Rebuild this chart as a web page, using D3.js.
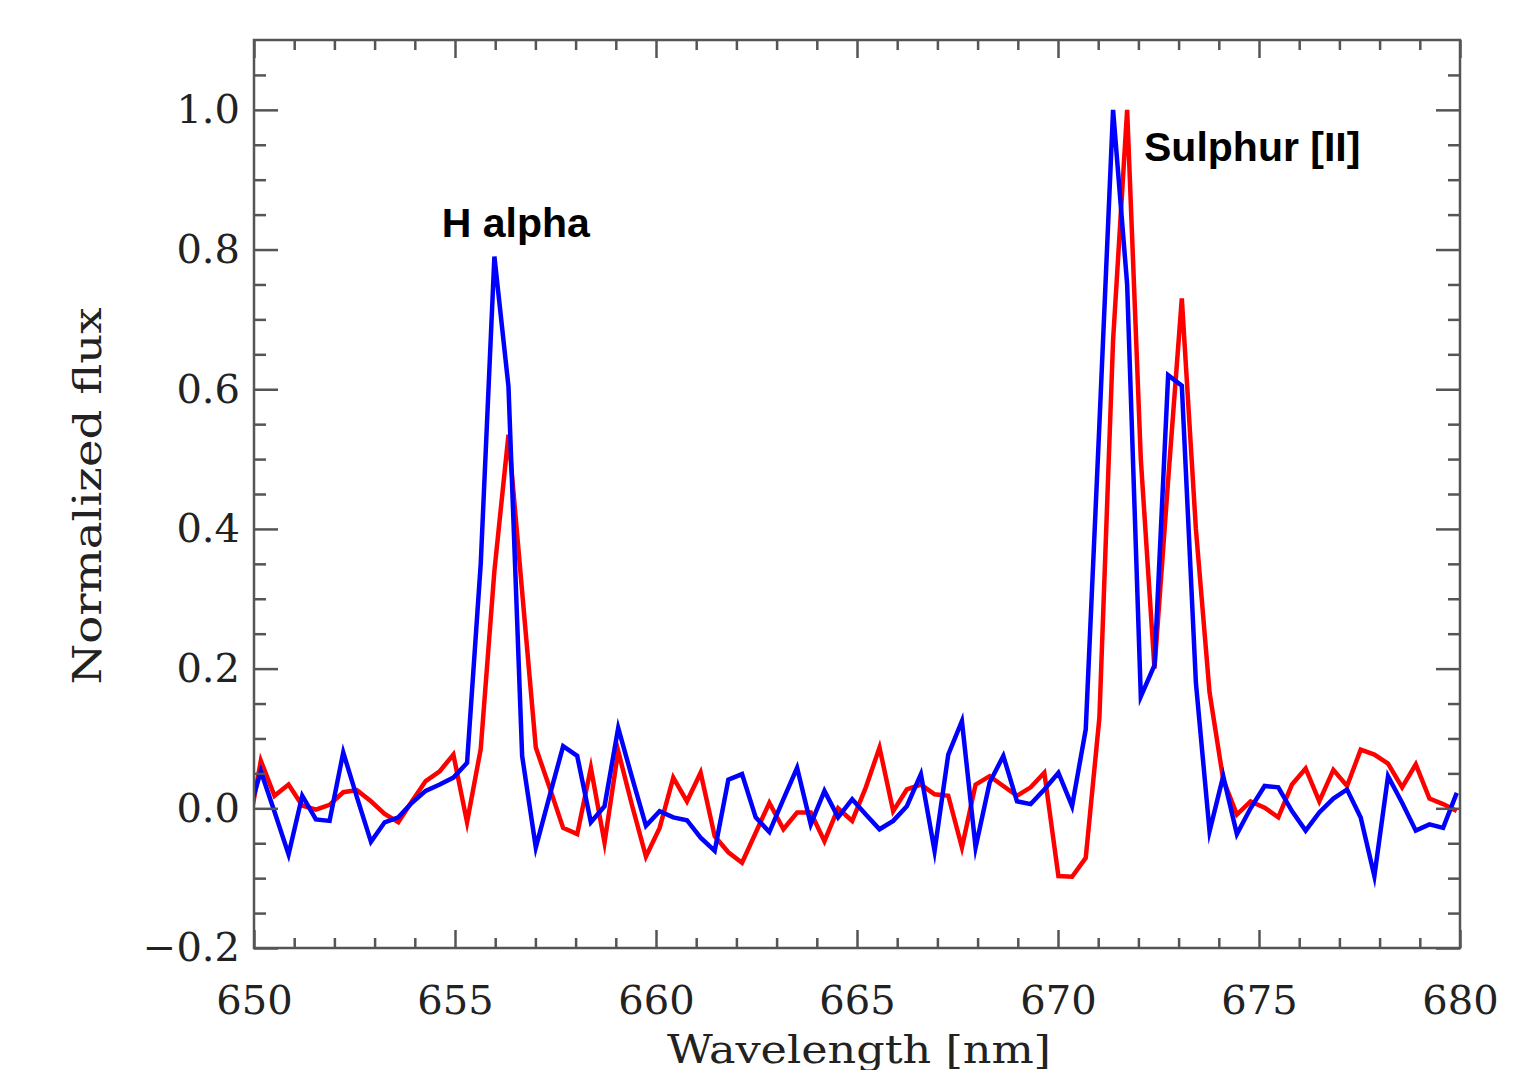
<!DOCTYPE html>
<html>
<head>
<meta charset="utf-8">
<script src="https://cdn.jsdelivr.net/npm/d3@7"></script>
<style>
  body { margin: 0; background: #fff; }
  svg { display: block; }
</style>
</head>
<body>
<div id="chartContainer"></div>
<script>
// wavelength grid of the spectrum (nm), first point falls outside the frame
const wavelength = [
  649.83, 650.17, 650.51, 650.86, 651.20, 651.54, 651.88, 652.22, 652.56, 652.91,
  653.25, 653.59, 653.93, 654.27, 654.62, 654.96, 655.30, 655.64, 655.98, 656.33,
  656.67, 657.01, 657.35, 657.69, 658.04, 658.38, 658.72, 659.06, 659.40, 659.75,
  660.09, 660.43, 660.77, 661.11, 661.46, 661.80, 662.14, 662.48, 662.82, 663.17,
  663.51, 663.85, 664.19, 664.53, 664.88, 665.22, 665.56, 665.90, 666.24, 666.59,
  666.93, 667.27, 667.61, 667.95, 668.30, 668.64, 668.98, 669.32, 669.66, 670.01,
  670.35, 670.69, 671.03, 671.37, 671.72, 672.06, 672.40, 672.74, 673.08, 673.43,
  673.77, 674.11, 674.45, 674.79, 675.14, 675.48, 675.82, 676.16, 676.50, 676.85,
  677.19, 677.53, 677.87, 678.21, 678.56, 678.90, 679.24, 679.58, 679.92
];

const fluxRed = [
  -0.040, 0.068, 0.018, 0.034, 0.004, -0.002, 0.005, 0.023, 0.026, 0.010,
  -0.008, -0.020, 0.010, 0.039, 0.053, 0.077, -0.020, 0.085, 0.340, 0.535,
  0.310, 0.087, 0.030, -0.028, -0.037, 0.058, -0.049, 0.082, 0.005, -0.069,
  -0.028, 0.044, 0.010, 0.051, -0.040, -0.063, -0.078, -0.035, 0.008, -0.030,
  -0.006, -0.006, -0.047, 0.000, -0.018, 0.030, 0.087, -0.004, 0.027, 0.034,
  0.020, 0.018, -0.056, 0.034, 0.046, 0.032, 0.018, 0.030, 0.051, -0.097,
  -0.098, -0.071, 0.130, 0.670, 1.000, 0.500, 0.200, 0.470, 0.730, 0.400,
  0.166, 0.041, -0.009, 0.010, 0.001, -0.013, 0.034, 0.057, 0.010, 0.055,
  0.032, 0.084, 0.077, 0.064, 0.030, 0.063, 0.014, 0.006, -0.004
];

const fluxBlue = [
  -0.014, 0.053, -0.005, -0.066, 0.018, -0.016, -0.018, 0.080, 0.016, -0.048,
  -0.020, -0.013, 0.008, 0.025, 0.034, 0.044, 0.065, 0.350, 0.790, 0.604,
  0.075, -0.056, 0.017, 0.089, 0.075, -0.020, 0.003, 0.115, 0.045, -0.025,
  -0.004, -0.013, -0.017, -0.042, -0.061, 0.041, 0.049, -0.013, -0.034, 0.013,
  0.058, -0.023, 0.025, -0.013, 0.013, -0.009, -0.030, -0.018, 0.003, 0.049,
  -0.061, 0.077, 0.125, -0.056, 0.037, 0.075, 0.010, 0.006, 0.027, 0.051,
  0.003, 0.113, 0.550, 1.000, 0.750, 0.160, 0.205, 0.620, 0.605, 0.180,
  -0.033, 0.046, -0.037, 0.000, 0.032, 0.030, -0.004, -0.032, -0.006, 0.014,
  0.027, -0.013, -0.097, 0.046, 0.008, -0.032, -0.023, -0.028, 0.022
];

const xMajorTicks = [650, 655, 660, 665, 670, 675, 680];
const xMinorTicks = [651, 652, 653, 654, 656, 657, 658, 659, 661, 662, 663, 664,
  666, 667, 668, 669, 671, 672, 673, 674, 676, 677, 678, 679];
const yMajorTicks = [-0.2, 0.0, 0.2, 0.4, 0.6, 0.8, 1.0];
const yMinorTicks = [-0.15, -0.1, -0.05, 0.05, 0.1, 0.15, 0.25, 0.3, 0.35, 0.45, 0.5,
  0.55, 0.65, 0.7, 0.75, 0.85, 0.9, 0.95, 1.05];

const lines = [
  { name: "red", values: fluxRed, color: "#ff0000" },
  { name: "blue", values: fluxBlue, color: "#0000ff" }
];

const labels = [
  { text: "H alpha", x: 654.67, y: 0.818 },
  { text: "Sulphur [II]", x: 672.14, y: 0.927 }
];

const width = 1539;
const height = 1070;
const margin = { top: 40, right: 79, bottom: 122, left: 254 };
const innerWidth = width - margin.left - margin.right;
const innerHeight = height - margin.top - margin.bottom;
const axisColor = "#555";

const svg = d3
  .select("#chartContainer")
  .append("svg")
  .attr("width", width)
  .attr("height", height);

const g = svg.append("g").attr("transform", `translate(${margin.left},${margin.top})`);

const x = d3.scaleLinear().domain([650, 680]).range([0, innerWidth]);
const y = d3.scaleLinear().domain([-0.2, 1.1]).range([innerHeight, 0]);

g.append("clipPath")
  .attr("id", "plotClip")
  .append("rect")
  .attr("width", innerWidth)
  .attr("height", innerHeight);

// spectra
const line = d3
  .line()
  .x((d, i) => x(wavelength[i]))
  .y((d) => y(d));

g.append("g")
  .attr("clip-path", "url(#plotClip)")
  .selectAll("path")
  .data(lines)
  .enter()
  .append("path")
  .attr("fill", "none")
  .attr("stroke", (d) => d.color)
  .attr("stroke-width", 4.5)
  .attr("stroke-linejoin", "miter")
  .attr("stroke-miterlimit", 10)
  .attr("d", (d) => line(d.values));

// ticks on all four sides, pointing inward
function styleAxis(sel) {
  sel.select(".domain").remove();
  sel.selectAll(".tick line").attr("stroke", axisColor).attr("stroke-width", 2.5);
}

function bareAxis(sel) {
  styleAxis(sel);
  sel.selectAll(".tick text").remove();
}

g.append("g")
  .attr("transform", `translate(0,${innerHeight})`)
  .call(d3.axisBottom(x).tickValues(xMinorTicks).tickSize(-10))
  .call(bareAxis);

const xAxis = g
  .append("g")
  .attr("transform", `translate(0,${innerHeight})`)
  .call(d3.axisBottom(x).tickValues(xMajorTicks).tickSize(-18).tickPadding(38).tickFormat(d3.format("d")))
  .call(styleAxis);

g.append("g")
  .call(d3.axisTop(x).tickValues(xMinorTicks).tickSize(-10))
  .call(bareAxis);
g.append("g")
  .call(d3.axisTop(x).tickValues(xMajorTicks).tickSize(-18))
  .call(bareAxis);

g.append("g")
  .call(d3.axisLeft(y).tickValues(yMinorTicks).tickSize(-12))
  .call(bareAxis);

const yAxis = g
  .append("g")
  .call(d3.axisLeft(y).tickValues(yMajorTicks).tickSize(-24).tickPadding(14).tickFormat(d3.format(".1f")))
  .call(styleAxis);

g.append("g")
  .attr("transform", `translate(${innerWidth},0)`)
  .call(d3.axisRight(y).tickValues(yMinorTicks).tickSize(-12))
  .call(bareAxis);
g.append("g")
  .attr("transform", `translate(${innerWidth},0)`)
  .call(d3.axisRight(y).tickValues(yMajorTicks).tickSize(-24))
  .call(bareAxis);

[xAxis, yAxis].forEach((a) =>
  a.selectAll(".tick text")
    .attr("fill", "#222")
    .style("font-family", "'DejaVu Serif', serif")
    .style("font-size", "40px")
);

// frame
g.append("rect")
  .attr("width", innerWidth)
  .attr("height", innerHeight)
  .attr("fill", "none")
  .attr("stroke", axisColor)
  .attr("stroke-width", 2.5);

// axis titles
g.append("text")
  .attr("x", innerWidth / 2 + 2)
  .attr("y", innerHeight + 115)
  .attr("text-anchor", "middle")
  .attr("fill", "#222")
  .attr("textLength", 384)
  .attr("lengthAdjust", "spacingAndGlyphs")
  .style("font-family", "'DejaVu Serif', serif")
  .style("font-size", "40px")
  .text("Wavelength [nm]");

g.append("text")
  .attr("transform", `translate(${101 - margin.left},${496 - margin.top}) rotate(-90)`)
  .attr("text-anchor", "middle")
  .attr("fill", "#222")
  .attr("textLength", 377)
  .attr("lengthAdjust", "spacingAndGlyphs")
  .style("font-family", "'DejaVu Serif', serif")
  .style("font-size", "40px")
  .text("Normalized flux");

// line annotations
g.selectAll(".annotation")
  .data(labels)
  .enter()
  .append("text")
  .attr("class", "annotation")
  .attr("x", (d) => x(d.x))
  .attr("y", (d) => y(d.y))
  .attr("fill", "#000")
  .style("font-family", "'Liberation Sans', Arial, sans-serif")
  .style("font-weight", "bold")
  .style("font-size", "41px")
  .text((d) => d.text);
</script>
</body>
</html>
